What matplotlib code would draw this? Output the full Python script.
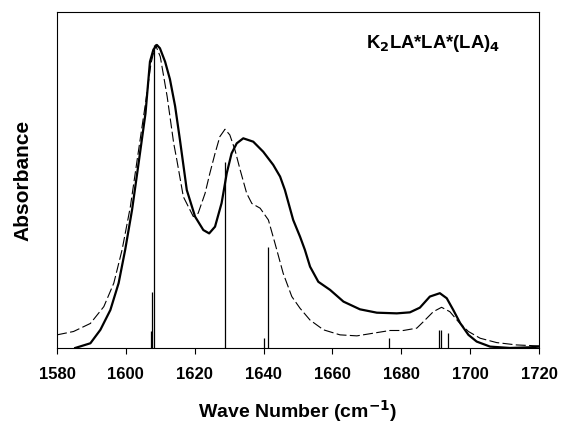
import matplotlib.pyplot as plt

plt.rcParams['font.family'] = ['Liberation Sans', 'DejaVu Sans']

# measured spectrum (solid, thick)
wn_meas = [1585.3, 1589.7, 1592.6, 1595.5, 1597.9, 1599.8, 1601.8, 1603.7, 1605.7,
           1607.0, 1608.0, 1609.0, 1609.9, 1611.4, 1612.8, 1614.3, 1615.7, 1617.7,
           1620.1, 1622.5, 1624.2, 1625.9, 1627.8, 1628.3, 1629.3, 1630.7, 1632.2,
           1634.1, 1637.0, 1639.9, 1642.8, 1644.8, 1646.2, 1648.6, 1650.6, 1652.0,
           1653.5, 1655.9, 1659.3, 1663.2, 1668.0, 1672.9, 1678.7, 1682.5, 1685.4,
           1688.3, 1691.2, 1693.2, 1695.1, 1697.1, 1699.5, 1701.9, 1705.8, 1711.6,
           1717.4, 1720.0]
abs_meas = [0.0, 0.014, 0.054, 0.113, 0.193, 0.292, 0.411, 0.55, 0.698,
            0.852, 0.888, 0.902, 0.892, 0.852, 0.80, 0.72, 0.62, 0.47,
            0.391, 0.351, 0.341, 0.361, 0.431, 0.46, 0.52, 0.579, 0.609,
            0.624, 0.614, 0.584, 0.545, 0.51, 0.47, 0.381, 0.331, 0.292,
            0.242, 0.197, 0.173, 0.138, 0.115, 0.105, 0.103, 0.106, 0.12,
            0.153, 0.163, 0.148, 0.113, 0.074, 0.039, 0.019, 0.004, 0.0,
            0.002, 0.004]

# calculated spectrum (dashed)
wn_calc = [1580.0, 1584.8, 1589.7, 1593.6, 1596.5, 1598.9, 1601.3, 1603.7, 1605.7,
           1607.3, 1608.6, 1610.0, 1612.0, 1613.9, 1614.8, 1616.7, 1619.6, 1621.0,
           1623.0, 1624.4, 1625.9, 1627.3, 1628.8, 1630.2, 1631.7, 1633.2, 1635.1,
           1636.6, 1639.0, 1641.4, 1643.3, 1645.7, 1648.2, 1650.6, 1653.5, 1657.4,
           1662.2, 1667.1, 1671.9, 1676.7, 1680.6, 1684.5, 1686.4, 1689.3, 1691.7,
           1694.1, 1696.6, 1699.5, 1702.9, 1707.7, 1713.5, 1720.0]
abs_calc = [0.039, 0.049, 0.073, 0.123, 0.193, 0.292, 0.42, 0.589, 0.728,
            0.847, 0.902, 0.867, 0.748, 0.609, 0.56, 0.45, 0.391, 0.401,
            0.46, 0.52, 0.579, 0.629, 0.651, 0.634, 0.589, 0.53, 0.46,
            0.43, 0.416, 0.381, 0.312, 0.222, 0.153, 0.118, 0.083, 0.054,
            0.039, 0.036, 0.044, 0.052, 0.052, 0.059, 0.078, 0.108, 0.121,
            0.108, 0.078, 0.049, 0.029, 0.016, 0.009, 0.006]

# normal mode stick spectrum
stick_pos = [1607.4, 1607.6, 1608.3, 1628.8, 1640.1, 1641.4, 1676.4, 1691.0, 1691.5, 1693.5]
stick_int = [0.05, 0.168, 0.902, 0.554, 0.029, 0.30, 0.03, 0.054, 0.054, 0.044]

fig = plt.figure(figsize=(5.61, 4.28), dpi=100)
ax = fig.add_axes([0.1016, 0.187, 0.8592, 0.785])

ax.plot(wn_meas, abs_meas, color='black', linewidth=1.6, solid_joinstyle='round')
ax.plot(wn_calc, abs_calc, color='black', linewidth=0.8, dashes=(9, 3))
ax.vlines(stick_pos, 0, stick_int, color='black', linewidth=0.9)

ax.set_xlim(1580, 1720)
ax.set_ylim(0, 1.0)
ax.set_xticks(range(1580, 1721, 20))
ax.set_yticks([])
ax.tick_params(axis='x', direction='out', length=4, width=0.8, pad=10, labelsize=12)
for lbl in ax.get_xticklabels():
    lbl.set_fontweight('bold')
for sp in ax.spines.values():
    sp.set_linewidth(0.8)

ax.set_xlabel('Wave Number (cm$^{\\mathbf{-1}}$)', fontsize=14, fontweight='bold', labelpad=11)
ax.set_ylabel('Absorbance', fontsize=15, fontweight='bold', labelpad=18)

ax.text(0.919, 0.905, 'K$_\\mathbf{2}$LA*LA*(LA)$_\\mathbf{4}$', transform=ax.transAxes,
        fontsize=13.3, fontweight='bold', ha='right', va='center')

fig.savefig('out.png', dpi=100)
